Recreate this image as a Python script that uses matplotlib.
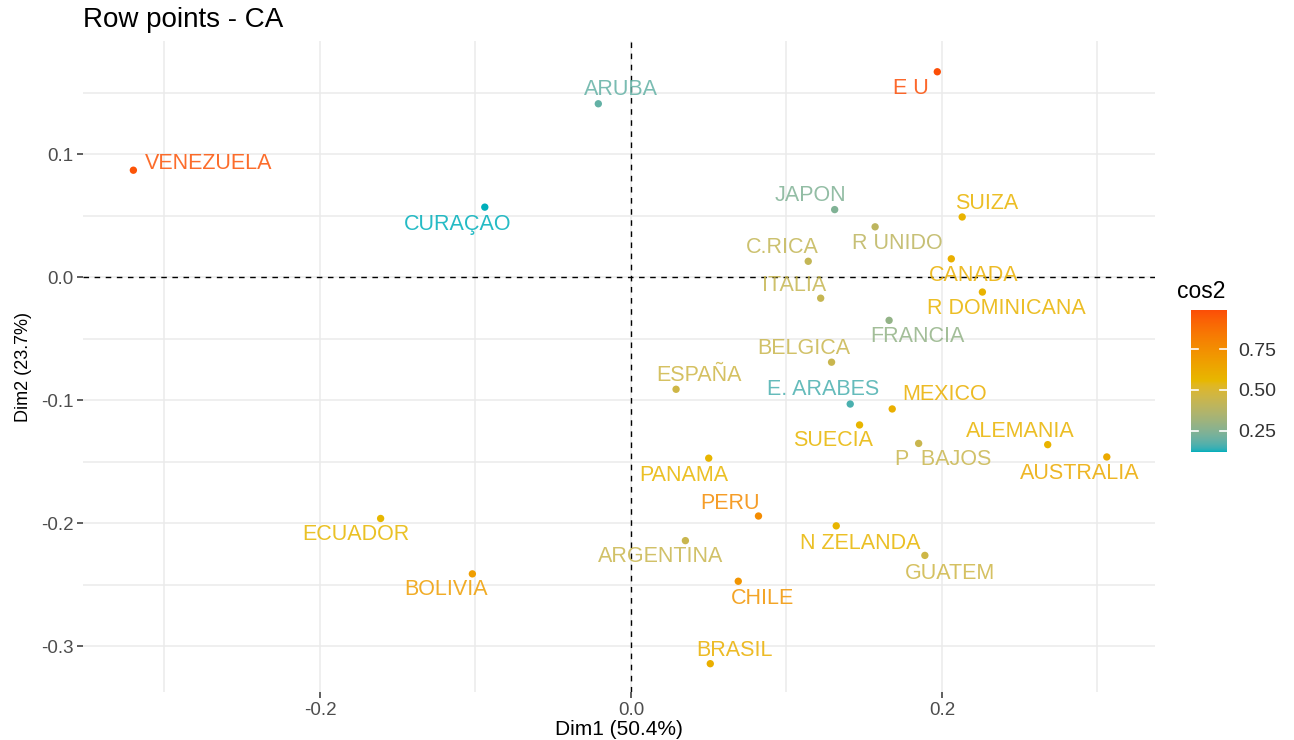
import numpy as np
import matplotlib.pyplot as plt
from matplotlib.colors import ListedColormap, Normalize, to_rgb

plt.rcParams['font.family'] = ['Liberation Sans', 'DejaVu Sans']

# puntos fila del analisis de correspondencias
paises = ['VENEZUELA', 'ARUBA', 'CURAÇAO', 'E U', 'JAPON', 'R UNIDO', 'SUIZA', 'C.RICA',
          'CANADA', 'ITALIA', 'R DOMINICANA', 'FRANCIA', 'BELGICA', 'ESPAÑA', 'E. ARABES',
          'MEXICO', 'SUECIA', 'P  BAJOS', 'ALEMANIA', 'AUSTRALIA', 'PANAMA', 'PERU',
          'ECUADOR', 'ARGENTINA', 'N ZELANDA', 'GUATEM', 'BOLIVIA', 'CHILE', 'BRASIL']
dim1 = [-0.320, -0.021, -0.094, 0.197, 0.131, 0.157, 0.213, 0.114,
        0.206, 0.122, 0.226, 0.166, 0.129, 0.029, 0.141,
        0.168, 0.147, 0.185, 0.268, 0.306, 0.050, 0.082,
        -0.161, 0.035, 0.132, 0.189, -0.102, 0.069, 0.051]
dim2 = [0.087, 0.141, 0.057, 0.167, 0.055, 0.041, 0.049, 0.013,
        0.015, -0.017, -0.012, -0.035, -0.069, -0.091, -0.103,
        -0.107, -0.120, -0.135, -0.136, -0.146, -0.147, -0.194,
        -0.196, -0.214, -0.202, -0.226, -0.241, -0.247, -0.314]
cos2 = [0.97, 0.19, 0.12, 0.99, 0.24, 0.40, 0.58, 0.42,
        0.60, 0.43, 0.58, 0.28, 0.44, 0.46, 0.16,
        0.60, 0.57, 0.44, 0.58, 0.62, 0.57, 0.76,
        0.56, 0.44, 0.57, 0.46, 0.68, 0.72, 0.60]

# desplazamiento de etiquetas (pixeles, y hacia abajo)
desp = [(75, -7), (23, -14), (-27, 17), (-26, 17), (-24, -14), (22, 17), (25, -13), (-26, -14),
        (22, 17), (-27, -13), (24, 16), (28, 16), (-28, -14), (23, -14), (-27, -15),
        (52, -14), (-26, 16), (25, 16), (-27, -13), (-27, 17), (-25, 17), (-28, -13),
        (-25, 16), (-25, 16), (24, 18), (25, 18), (-26, 16), (24, 17), (24, -13)]


# gradiente interpolado en espacio Lab (como ggplot2)
def a_lab(rgb):
    c = np.array(rgb)
    c = np.where(c > 0.04045, ((c + 0.055) / 1.055) ** 2.4, c / 12.92)
    M = np.array([[0.4124, 0.3576, 0.1805], [0.2126, 0.7152, 0.0722], [0.0193, 0.1192, 0.9505]])
    xyz = M @ c / np.array([0.95047, 1.0, 1.08883])
    f = np.where(xyz > 0.008856, np.cbrt(xyz), 7.787 * xyz + 16 / 116)
    return np.array([116 * f[1] - 16, 500 * (f[0] - f[1]), 200 * (f[1] - f[2])])


def de_lab(lab):
    L, a, b = lab
    fy = (L + 16) / 116
    f = np.array([fy + a / 500, fy, fy - b / 200])
    xyz = np.where(f ** 3 > 0.008856, f ** 3, (f - 16 / 116) / 7.787) * np.array([0.95047, 1.0, 1.08883])
    Mi = np.array([[3.2406, -1.5372, -0.4986], [-0.9689, 1.8758, 0.0415], [0.0557, -0.2040, 1.0570]])
    c = Mi @ xyz
    c = np.where(c > 0.0031308, 1.055 * np.clip(c, 0, None) ** (1 / 2.4) - 0.055, 12.92 * c)
    return np.clip(c, 0, 1)


labs = [a_lab(to_rgb(h)) for h in ['#00AFBB', '#E7B800', '#FC4E07']]
lista = []
for t in np.linspace(0, 1, 256):
    if t <= 0.5:
        lab = labs[0] + (labs[1] - labs[0]) * t * 2
    else:
        lab = labs[1] + (labs[2] - labs[1]) * (t - 0.5) * 2
    lista.append(de_lab(lab))
cmap = ListedColormap(lista)
norm = Normalize(vmin=0.12, vmax=0.99)

W, H = 1294, 740
fig = plt.figure(figsize=(W / 100, H / 100), dpi=100)
ax = fig.add_axes([83 / W, (H - 692) / H, (1155 - 83) / W, (692 - 41) / H])

ax.set_xlim(-0.3524, 0.337)
ax.set_ylim(-0.337, 0.192)

for lado in ax.spines.values():
    lado.set_visible(False)
ax.set_xticks([-0.2, 0.0, 0.2])
ax.set_yticks([-0.3, -0.2, -0.1, 0.0, 0.1])
ax.set_xticks([-0.3, -0.1, 0.1, 0.3], minor=True)
ax.set_yticks([-0.25, -0.15, -0.05, 0.05, 0.15], minor=True)
ax.set_xticklabels(['-0.2', '0.0', '0.2'])
ax.set_yticklabels(['-0.3', '-0.2', '-0.1', '0.0', '0.1'])
ax.tick_params(which='major', length=4, width=1.1, color='#333333', labelcolor='#4d4d4d',
               labelsize=13.5, pad=3)
ax.tick_params(which='minor', length=0)
ax.grid(which='both', color='#ebebeb', linewidth=1.1)
ax.set_axisbelow(True)

ax.axhline(0, color='black', linestyle=(0, (4, 4)), linewidth=1)
ax.axvline(0, color='black', linestyle=(0, (4, 4)), linewidth=1)

colores = cmap(norm(np.array(cos2)))
ax.scatter(dim1, dim2, c=colores, s=28, zorder=3, linewidths=0)
for i, nombre in enumerate(paises):
    dx, dy = desp[i]
    ax.annotate(nombre, (dim1[i], dim2[i]), xytext=(dx * 0.72, -dy * 0.72),
                textcoords='offset points', ha='center', va='center',
                color=colores[i], fontsize=15.5, alpha=0.85)

ax.set_xlabel('Dim1 (50.4%)', fontsize=15, labelpad=1)
ax.set_ylabel('Dim2 (23.7%)', fontsize=13, labelpad=6)
fig.text(83 / W, 1 - 20 / H, 'Row points - CA', fontsize=20, va='center', ha='left')

# barra de color
cax = fig.add_axes([1191 / W, (H - 452) / H, 36 / W, 142 / H])
grad = np.linspace(0.12, 0.99, 256).reshape(-1, 1)
cax.imshow(grad, aspect='auto', origin='lower', cmap=cmap, norm=norm,
           extent=[0, 1, 0.12, 0.99])
cax.set_xlim(0, 1)
cax.set_ylim(0.12, 0.99)
for t in [0.25, 0.50, 0.75]:
    cax.plot([0, 0.2], [t, t], color='white', linewidth=1.2)
    cax.plot([0.8, 1], [t, t], color='white', linewidth=1.2)
cax.set_xticks([])
cax.yaxis.tick_right()
cax.set_yticks([0.25, 0.50, 0.75])
cax.set_yticklabels(['0.25', '0.50', '0.75'])
cax.tick_params(length=0, labelsize=14, labelcolor='#333333', pad=8)
for lado in cax.spines.values():
    lado.set_visible(False)
fig.text(1177 / W, 1 - 292 / H, 'cos2', fontsize=16.5, va='center', ha='left')

fig.savefig('out.png', dpi=100)
